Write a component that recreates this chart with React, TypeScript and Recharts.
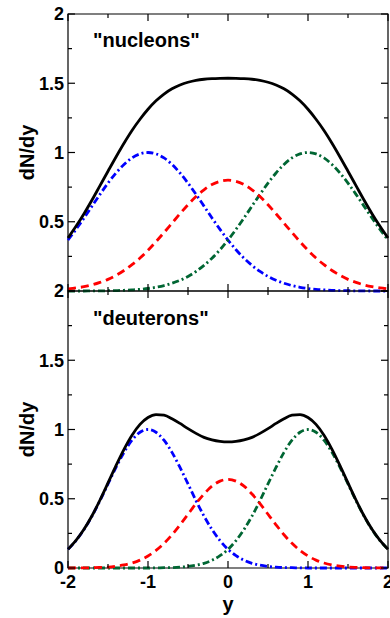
import React from "react";
import { LineChart, Line, XAxis, YAxis, ReferenceArea, Label } from "recharts";

const X = [
  -2, -1.9, -1.8, -1.7, -1.6, -1.5, -1.4, -1.3, -1.2, -1.1, -1, -0.9, -0.8, -0.7, -0.6, -0.5, -0.4, -0.3, -0.2, -0.1, 0,
  0.1, 0.2, 0.3, 0.4, 0.5, 0.6, 0.7, 0.8, 0.9, 1, 1.1, 1.2, 1.3, 1.4, 1.5, 1.6, 1.7, 1.8, 1.9, 2,
];

// "nucleons" panel
const N_BLUE = [
  0.368, 0.445, 0.527, 0.613, 0.698, 0.779, 0.852, 0.914, 0.961, 0.99, 1, 0.99, 0.961, 0.914, 0.852, 0.779, 0.698, 0.613,
  0.527, 0.445, 0.368, 0.298, 0.237, 0.185, 0.141, 0.105, 0.077, 0.056, 0.039, 0.027, 0.018, 0.012, 0.008, 0.005, 0.003,
  0.002, 0.001, 0.001, 0, 0, 0,
];
const N_GREEN = [
  0, 0, 0, 0.001, 0.001, 0.002, 0.003, 0.005, 0.008, 0.012, 0.018, 0.027, 0.039, 0.056, 0.077, 0.105, 0.141, 0.185, 0.237,
  0.298, 0.368, 0.445, 0.527, 0.613, 0.698, 0.779, 0.852, 0.914, 0.961, 0.99, 1, 0.99, 0.961, 0.914, 0.852, 0.779, 0.698,
  0.613, 0.527, 0.445, 0.368,
];
const N_RED = [
  0.015, 0.022, 0.031, 0.044, 0.062, 0.084, 0.113, 0.148, 0.19, 0.238, 0.294, 0.356, 0.422, 0.49, 0.558, 0.623, 0.682,
  0.731, 0.769, 0.792, 0.8, 0.792, 0.769, 0.731, 0.682, 0.623, 0.558, 0.49, 0.422, 0.356, 0.294, 0.238, 0.19, 0.148, 0.113,
  0.084, 0.062, 0.044, 0.031, 0.022, 0.015,
];
const N_TOTAL = [
  0.383, 0.467, 0.558, 0.657, 0.761, 0.865, 0.968, 1.067, 1.159, 1.24, 1.312, 1.373, 1.422, 1.46, 1.487, 1.507, 1.521,
  1.529, 1.533, 1.535, 1.536, 1.535, 1.533, 1.529, 1.521, 1.507, 1.487, 1.46, 1.422, 1.373, 1.312, 1.24, 1.159, 1.067,
  0.968, 0.865, 0.761, 0.657, 0.558, 0.467, 0.383,
];

// "deuterons" panel
const D_BLUE = [
  0.135, 0.198, 0.278, 0.375, 0.487, 0.607, 0.726, 0.835, 0.923, 0.98, 1, 0.98, 0.923, 0.835, 0.726, 0.607, 0.487, 0.375,
  0.278, 0.198, 0.135, 0.089, 0.056, 0.034, 0.02, 0.011, 0.006, 0.003, 0.002, 0.001, 0, 0, 0, 0, 0, 0, 0, 0, 0, 0, 0,
];
const D_GREEN = [
  0, 0, 0, 0, 0, 0, 0, 0, 0, 0, 0, 0.001, 0.002, 0.003, 0.006, 0.011, 0.02, 0.034, 0.056, 0.089, 0.135, 0.198, 0.278,
  0.375, 0.487, 0.607, 0.726, 0.835, 0.923, 0.98, 1, 0.98, 0.923, 0.835, 0.726, 0.607, 0.487, 0.375, 0.278, 0.198, 0.135,
];
const D_RED = [
  0, 0.001, 0.001, 0.002, 0.004, 0.007, 0.013, 0.022, 0.036, 0.057, 0.087, 0.127, 0.178, 0.24, 0.312, 0.388, 0.465, 0.534,
  0.591, 0.627, 0.64, 0.627, 0.591, 0.534, 0.465, 0.388, 0.312, 0.24, 0.178, 0.127, 0.087, 0.057, 0.036, 0.022, 0.013,
  0.007, 0.004, 0.002, 0.001, 0.001, 0,
];
const D_TOTAL = [
  0.135, 0.199, 0.279, 0.377, 0.491, 0.614, 0.739, 0.857, 0.959, 1.037, 1.087, 1.108, 1.103, 1.078, 1.044, 1.006, 0.972,
  0.943, 0.925, 0.914, 0.91, 0.914, 0.925, 0.943, 0.972, 1.006, 1.044, 1.078, 1.103, 1.108, 1.087, 1.037, 0.959, 0.857,
  0.739, 0.614, 0.491, 0.377, 0.279, 0.199, 0.135,
];

const X_TICKS = [-2, -1.5, -1, -0.5, 0, 0.5, 1, 1.5, 2];
const X_LABELS = [-2, -1, 0, 1, 2];
const Y_TICKS = [0, 0.25, 0.5, 0.75, 1, 1.25, 1.5, 1.75, 2];
const N_Y_LABELS = [0.5, 1, 1.5, 2];
const D_Y_LABELS = [0, 0.5, 1, 1.5, 2];

const FONT = "'Liberation Sans', Arial, Helvetica, sans-serif";
const W = 390;
const PLOT_W = 320;
const PLOT_H = 277;
const TM = 4;

const isMajor = (v: number, step: number) => Math.abs(v / step - Math.round(v / step)) < 1e-6;

const leftTick = (labels: number[]) => (props: any) => {
  const { x, y, payload } = props;
  const ax = x + TM;
  const v = payload.value;
  const len = isMajor(v, 0.5) ? 7 : 4;
  return (
    <g>
      <line x1={ax} x2={ax + len} y1={y} y2={y} stroke="#000" strokeWidth={1.2} />
      <line x1={ax + PLOT_W} x2={ax + PLOT_W - len} y1={y} y2={y} stroke="#000" strokeWidth={1.2} />
      {labels.includes(v) && (
        <text x={x} y={y} dy="0.36em" textAnchor="end" fontFamily={FONT} fontWeight="bold" fontSize={18} fill="#000">
          {v}
        </text>
      )}
    </g>
  );
};

const bottomTick = (showLabels: boolean) => (props: any) => {
  const { x, y, payload } = props;
  const ay = y - TM;
  const v = payload.value;
  const len = isMajor(v, 1) ? 7 : 4;
  return (
    <g>
      <line x1={x} x2={x} y1={ay} y2={ay - len} stroke="#000" strokeWidth={1.2} />
      <line x1={x} x2={x} y1={ay - PLOT_H} y2={ay - PLOT_H + len} stroke="#000" strokeWidth={1.2} />
      {showLabels && X_LABELS.includes(v) && (
        <text x={x} y={ay + 20} textAnchor="middle" fontFamily={FONT} fontWeight="bold" fontSize={18} fill="#000">
          {v}
        </text>
      )}
    </g>
  );
};

const yTitle = (props: any) => {
  const { viewBox } = props;
  const cx = viewBox.x + viewBox.width - 41;
  const cy = viewBox.y + viewBox.height / 2;
  return (
    <text
      x={cx}
      y={cy}
      dy="0.36em"
      textAnchor="middle"
      transform={`rotate(-90, ${cx}, ${cy})`}
      fontFamily={FONT}
      fontWeight="bold"
      fontSize={20}
      fill="#000"
    >
      dN/dy
    </text>
  );
};

const xTitle = (props: any) => {
  const { viewBox } = props;
  return (
    <text
      x={viewBox.x + viewBox.width / 2}
      y={viewBox.y + 43}
      textAnchor="middle"
      fontFamily={FONT}
      fontWeight="bold"
      fontSize={20}
      fill="#000"
    >
      y
    </text>
  );
};

const panelTitle = (text: string, dyTop: number) => (props: any) => {
  const { viewBox } = props;
  return (
    <text x={viewBox.x + 25} y={viewBox.y + dyTop} fontFamily={FONT} fontWeight="bold" fontSize={20} fill="#000">
      {text}
    </text>
  );
};

function Panel({
  blue,
  red,
  green,
  total,
  title,
  titleDy,
  yLabels,
  showX,
  height,
  margin,
}: {
  blue: number[];
  red: number[];
  green: number[];
  total: number[];
  title: string;
  titleDy: number;
  yLabels: number[];
  showX: boolean;
  height: number;
  margin: { top: number; right: number; bottom: number; left: number };
}) {
  const data = X.map((x, i) => ({ x, blue: blue[i], red: red[i], green: green[i], total: total[i] }));
  return (
    <LineChart width={W} height={height} data={data} margin={margin}>
      <XAxis
        dataKey="x"
        type="number"
        domain={[-2, 2]}
        ticks={X_TICKS}
        interval={0}
        height={1}
        tickSize={0}
        tickMargin={TM}
        tickLine={false}
        axisLine={false}
        tick={bottomTick(showX)}
      >
        {showX && <Label content={xTitle} />}
      </XAxis>
      <YAxis
        type="number"
        domain={[0, 2]}
        ticks={Y_TICKS}
        interval={0}
        width={1}
        tickSize={0}
        tickMargin={TM}
        tickLine={false}
        axisLine={false}
        tick={leftTick(yLabels)}
      >
        <Label content={yTitle} />
      </YAxis>
      <ReferenceArea x1={-2} x2={2} y1={0} y2={2} stroke="#000" strokeWidth={1.2} fill="none" fillOpacity={0}>
        <Label content={panelTitle(title, titleDy)} />
      </ReferenceArea>
      <Line
        dataKey="blue"
        type="monotone"
        stroke="#0000ff"
        strokeWidth={2.8}
        strokeDasharray="7 3 2 3"
        dot={false}
        isAnimationActive={false}
      />
      <Line
        dataKey="green"
        type="monotone"
        stroke="#006633"
        strokeWidth={2.8}
        strokeDasharray="7 3 2 3"
        dot={false}
        isAnimationActive={false}
      />
      <Line
        dataKey="red"
        type="monotone"
        stroke="#ff0000"
        strokeWidth={2.8}
        strokeDasharray="8 5"
        dot={false}
        isAnimationActive={false}
      />
      <Line dataKey="total" type="monotone" stroke="#000" strokeWidth={2.8} dot={false} isAnimationActive={false} />
    </LineChart>
  );
}

export default function App() {
  return (
    <div style={{ position: "absolute", left: 0, top: 0, width: W, height: 618, background: "#fff" }}>
      <div style={{ position: "absolute", left: 0, top: 0 }}>
        <Panel
          blue={N_BLUE}
          red={N_RED}
          green={N_GREEN}
          total={N_TOTAL}
          title={'"nucleons"'}
          titleDy={33}
          yLabels={N_Y_LABELS}
          showX={false}
          height={300}
          margin={{ top: 14, right: 2, bottom: 8, left: 67 }}
        />
      </div>
      <div style={{ position: "absolute", left: 0, top: 275 }}>
        <Panel
          blue={D_BLUE}
          red={D_RED}
          green={D_GREEN}
          total={D_TOTAL}
          title={'"deuterons"'}
          titleDy={34}
          yLabels={D_Y_LABELS}
          showX={true}
          height={343}
          margin={{ top: 16, right: 2, bottom: 49, left: 67 }}
        />
      </div>
    </div>
  );
}
